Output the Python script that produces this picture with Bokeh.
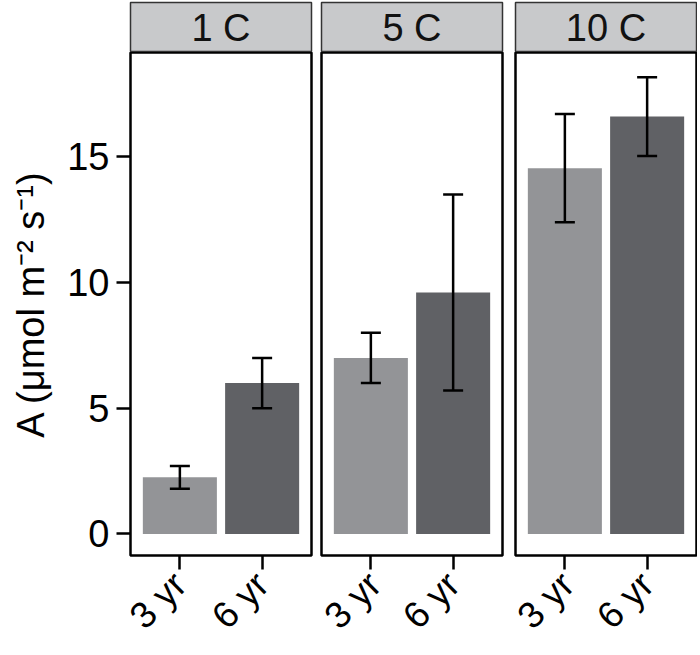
import numpy as np
from bokeh.plotting import figure
from bokeh.models import Range1d, ColumnDataSource, Whisker, TeeHead, Label
from bokeh.layouts import row, column
from bokeh.embed import file_html
from bokeh.resources import INLINE

# ---- data ----
temps = ["1 C", "5 C", "10 C"]
ages = ["3 yr", "6 yr"]
mean_1c = [2.25, 6.0]
mean_5c = [7.0, 9.6]
mean_10c = [14.55, 16.6]
se_1c = [0.45, 1.0]
se_5c = [1.0, 3.9]
se_10c = [2.15, 1.57]
yticks = [0, 5, 10, 15]
ylabel = "A (\u03bcmol m\u207b\u00b2 s\u207b\u00b9)"

means = [mean_1c, mean_5c, mean_10c]
ses = [se_1c, se_5c, se_10c]
bar_colors = ["#939497", "#606165"]

FONT = "Liberation Sans"
FS = "38px"
FSX = "37px"
panel_w = 181
borders = [(130, 5), (5, 7), (6, 1)]

cols = []
for i, t in enumerate(temps):
    bl, br = borders[i]
    # strip
    s = figure(width=bl + panel_w + br, height=52, x_range=(0, 1), y_range=(0, 1),
               toolbar_location=None, output_backend="svg",
               x_axis_location=None, y_axis_location=None,
               min_border_left=bl, min_border_right=br, min_border_top=2, min_border_bottom=0,
               background_fill_color="#c8c9cb", border_fill_color="white",
               outline_line_color="#333333", outline_line_width=1.5)
    s.xgrid.visible = False
    s.ygrid.visible = False
    s.add_layout(Label(x=0.5, y=0.5, text=t, text_align="center", text_baseline="middle",
                       text_font=FONT, text_font_size=FS, text_color="#111111"))

    p = figure(width=bl + panel_w + br, height=602,
               x_range=Range1d(0.4, 2.6), y_range=Range1d(-0.86, 19.15),
               toolbar_location=None, output_backend="svg",
               y_axis_location="left" if i == 0 else None,
               min_border_left=bl, min_border_right=br, min_border_top=0, min_border_bottom=90,
               background_fill_color="white", border_fill_color="white",
               outline_line_color="black", outline_line_width=2.5)
    p.xgrid.visible = False
    p.ygrid.visible = False

    xs = [k + 1 for k in range(len(ages))]
    m = means[i]
    e = ses[i]
    src = ColumnDataSource(dict(x=xs, top=m, color=bar_colors,
                                upper=[a + b for a, b in zip(m, e)],
                                lower=[a - b for a, b in zip(m, e)]))
    p.vbar(x="x", top="top", bottom=0, width=0.9, fill_color="color", line_color=None, source=src)
    w = Whisker(base="x", upper="upper", lower="lower", source=src, dimension="height",
                line_width=2.5, line_color="black", level="overlay",
                upper_head=TeeHead(size=20, line_width=2.5, line_color="black"),
                lower_head=TeeHead(size=20, line_width=2.5, line_color="black"))
    p.add_layout(w)

    xa = p.xaxis[0]
    xa.ticker = xs
    xa.major_label_overrides = {x: a for x, a in zip(xs, ages)}
    xa.major_label_orientation = np.pi / 4
    xa.minor_tick_line_color = None
    xa.axis_line_color = None
    xa.major_tick_in = 0
    xa.major_tick_out = 14
    xa.major_tick_line_width = 2.5
    xa.major_tick_line_color = "black"
    xa.major_label_text_font = FONT
    xa.major_label_text_font_size = FSX
    xa.major_label_text_color = "black"
    xa.major_label_standoff = 9

    if i == 0:
        ya = p.yaxis[0]
        ya.ticker = yticks
        ya.minor_tick_line_color = None
        ya.axis_line_color = None
        ya.major_tick_in = 0
        ya.major_tick_out = 14
        ya.major_tick_line_width = 2.5
        ya.major_tick_line_color = "black"
        ya.major_label_text_font = FONT
        ya.major_label_text_font_size = FS
        ya.major_label_text_color = "black"
        ya.major_label_standoff = 7
        ya.axis_label = ylabel
        ya.axis_label_text_font = FONT
        ya.axis_label_text_font_size = FS
        ya.axis_label_text_font_style = "normal"
        ya.axis_label_text_color = "black"
        ya.axis_label_standoff = 12

    cols.append(column(s, p))

layout = row(*cols)
open("out.html", "w").write(file_html(layout, INLINE))
